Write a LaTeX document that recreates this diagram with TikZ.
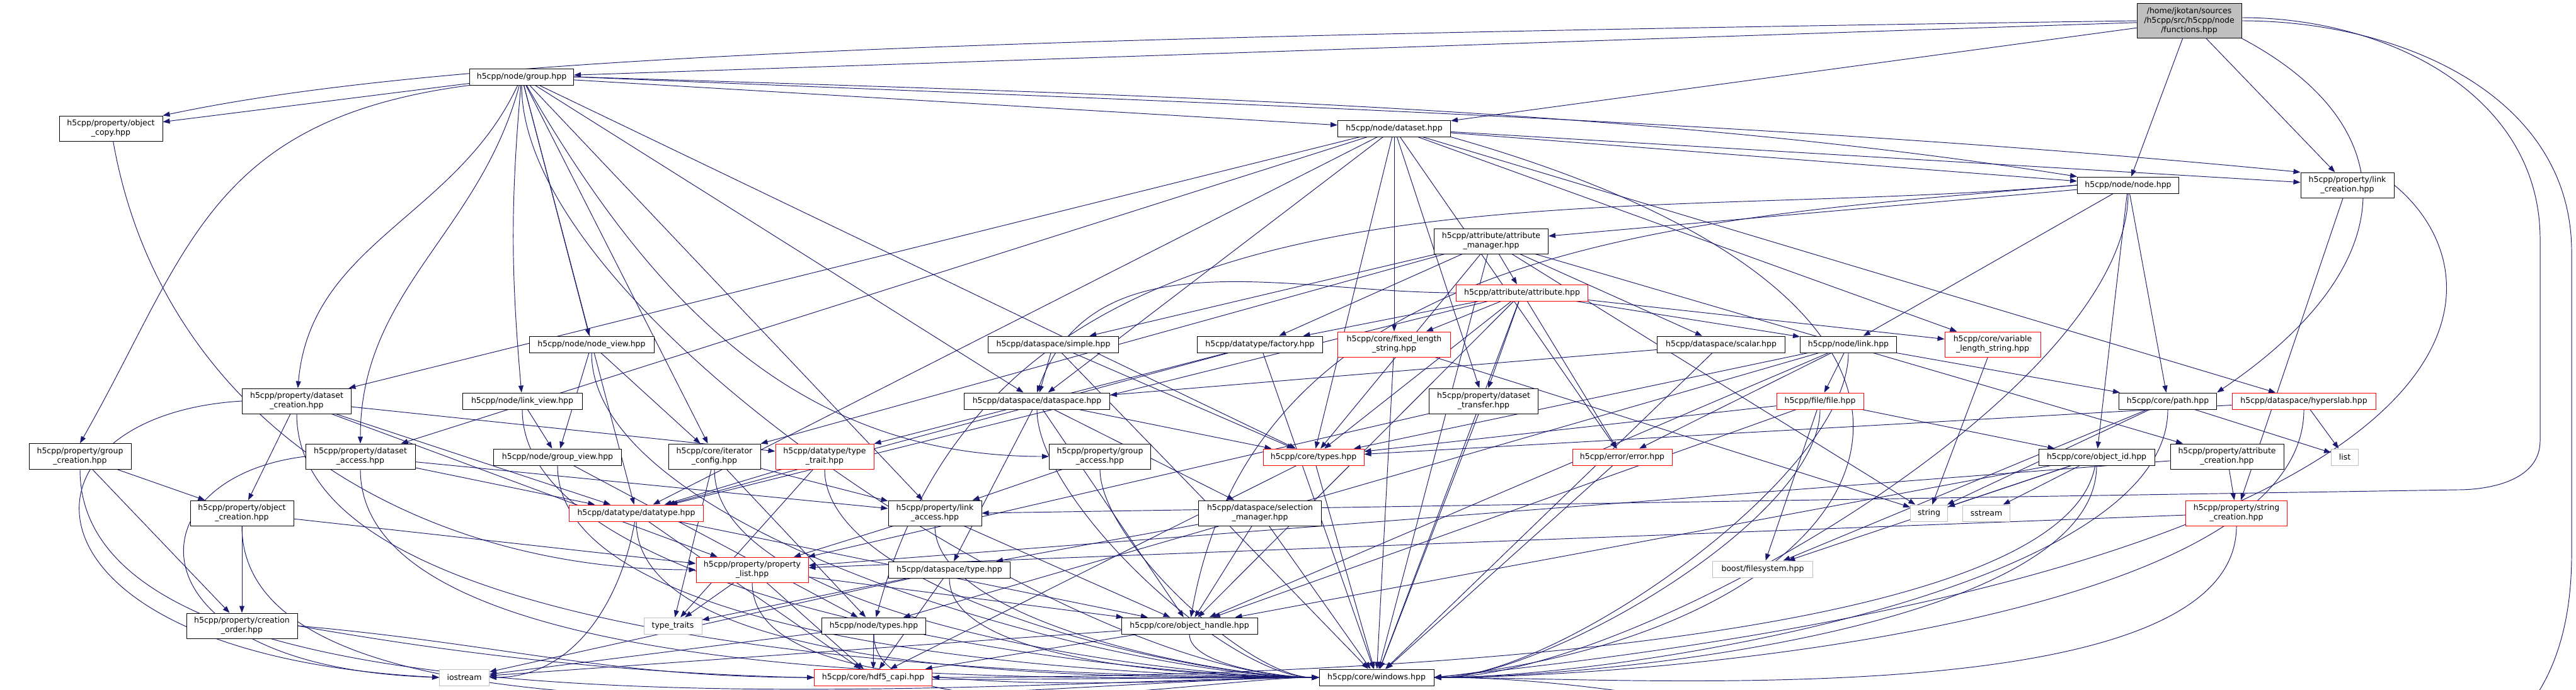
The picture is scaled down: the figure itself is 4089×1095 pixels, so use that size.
\documentclass[tikz,border=0pt]{standalone}
\usepackage{fontspec}
\newfontfamily\dxfont{DejaVu Sans}
\usetikzlibrary{arrows.meta}
\definecolor{edgec}{HTML}{191970}
\definecolor{grayb}{HTML}{BFBFBF}
\pgfdeclarelayer{bg}
\pgfsetlayers{bg,main}
\begin{document}
\begin{tikzpicture}[x=0.2pt,y=0.2pt,
  nb/.style={draw=black, fill=white, line width=0.2pt, inner sep=0pt, align=center, font=\dxfont\fontsize{2.5}{3}\selectfont},
  nr/.style={nb, draw=red},
  ng/.style={nb, draw=grayb},
  sz/.style 2 args={/utils/exec={\pgfmathsetmacro\mw{#1*0.2}\pgfmathsetmacro\mh{#2*0.2}}, minimum width=\mw pt, minimum height=\mh pt},
  e/.style={color=edgec, line width=0.19pt, -{Triangle[length=2.2pt,width=1.6pt]}},
  tw/.style={out=-90,in=180,looseness=0.6},
  te/.style={out=-90,in=0,looseness=0.6}]
\useasboundingbox (0,0) rectangle (4089,-1095);
% nodes
\node[nb, fill=grayb, sz={166}{55}] (root) at (3475,-33) {/home/jkotan/sources\\/h5cpp/src/h5cpp/node\\/functions.hpp};
\node[nb, sz={165}{26}] (group) at (828,-122) {h5cpp/node/group.hpp};
\node[nb, sz={164}{40}] (ocopy) at (176,-204) {h5cpp/property/object\\\_copy.hpp};
\node[nb, sz={179}{26}] (dset) at (2213,-204) {h5cpp/node/dataset.hpp};
\node[nb, sz={161}{26}] (nnode) at (3378,-294) {h5cpp/node/node.hpp};
\node[nb, sz={148}{40}] (lcre) at (3726,-294) {h5cpp/property/link\\\_creation.hpp};
\node[nb, sz={181}{40}] (amgr) at (2367,-383) {h5cpp/attribute/attribute\\\_manager.hpp};
\node[nr, sz={209}{26}] (attr) at (2416,-465) {h5cpp/attribute/attribute.hpp};
\node[nr, sz={179}{40}] (fls) at (2213,-547) {h5cpp/core/fixed\_length\\\_string.hpp};
\node[nb, sz={203}{26}] (scalar) at (2732,-547) {h5cpp/dataspace/scalar.hpp};
\node[nb, sz={153}{26}] (link) at (2934,-547) {h5cpp/node/link.hpp};
\node[nb, sz={199}{26}] (factory) at (2000,-547) {h5cpp/datatype/factory.hpp};
\node[nb, sz={207}{26}] (simple) at (1672,-547) {h5cpp/dataspace/simple.hpp};
\node[nb, sz={198}{26}] (nview) at (939,-547) {h5cpp/node/node\_view.hpp};
\node[nb, sz={173}{40}] (dscre) at (471,-637) {h5cpp/property/dataset\\\_creation.hpp};
\node[nb, sz={190}{26}] (lview) at (829,-637) {h5cpp/node/link\_view.hpp};
\node[nb, sz={162}{41}] (gcre) at (127,-725) {h5cpp/property/group\\\_creation.hpp};
\node[nb, sz={174}{40}] (dsacc) at (572,-725) {h5cpp/property/dataset\\\_access.hpp};
\node[nb, sz={203}{26}] (gview) at (885,-726) {h5cpp/node/group\_view.hpp};
\node[nb, sz={146}{40}] (iter) at (1134,-725) {h5cpp/core/iterator\\\_config.hpp};
\node[nr, sz={156}{40}] (ttrait) at (1309,-725) {h5cpp/datatype/type\\\_trait.hpp};
\node[nb, sz={231}{26}] (dspace) at (1646,-637) {h5cpp/dataspace/dataspace.hpp};
\node[nb, sz={161}{40}] (gacc) at (1746,-725) {h5cpp/property/group\\\_access.hpp};
\node[nr, sz={213}{26}] (dtype) at (1010,-815) {h5cpp/datatype/datatype.hpp};
\node[nb, sz={164}{40}] (ocre) at (384,-815) {h5cpp/property/object\\\_creation.hpp};
\node[nb, sz={176}{40}] (corder) at (384,-994) {h5cpp/property/creation\\\_order.hpp};
\node[ng, sz={79}{26}] (iostream) at (737,-1076) {iostream};
\node[nb, sz={148}{40}] (lacc) at (1484,-815) {h5cpp/property/link\\\_access.hpp};
\node[nb, sz={195}{40}] (selm) at (2000,-815) {h5cpp/dataspace/selection\\\_manager.hpp};
\node[nr, sz={178}{40}] (plist) at (1194,-905) {h5cpp/property/property\\\_list.hpp};
\node[nb, sz={193}{26}] (dstype) at (1507,-905) {h5cpp/dataspace/type.hpp};
\node[ng, sz={92}{26}] (ttraits) at (1068,-994) {type\_traits};
\node[nb, sz={165}{26}] (ntypes) at (1387,-994) {h5cpp/node/types.hpp};
\node[nb, sz={216}{26}] (ohandle) at (1888,-994) {h5cpp/core/object\_handle.hpp};
\node[nr, sz={187}{26}] (capi) at (1386,-1076) {h5cpp/core/hdf5\_capi.hpp};
\node[nb, sz={182}{26}] (windows) at (2185,-1076) {h5cpp/core/windows.hpp};
\node[nr, sz={160}{26}] (ctypes) at (2085,-726) {h5cpp/core/types.hpp};
\node[nr, sz={158}{26}] (error) at (2575,-726) {h5cpp/error/error.hpp};
\node[nb, sz={173}{40}] (dstr) at (2355,-637) {h5cpp/property/dataset\\\_transfer.hpp};
\node[nr, sz={138}{26}] (file) at (2889,-637) {h5cpp/file/file.hpp};
\node[nr, sz={152}{40}] (vls) at (3163,-547) {h5cpp/core/variable\\\_length\_string.hpp};
\node[nb, sz={155}{26}] (path) at (3441,-637) {h5cpp/core/path.hpp};
\node[nr, sz={228}{26}] (hslab) at (3657,-637) {h5cpp/dataspace/hyperslab.hpp};
\node[nb, sz={184}{26}] (oid) at (3328,-726) {h5cpp/core/object\_id.hpp};
\node[nb, sz={180}{40}] (acre) at (3535,-725) {h5cpp/property/attribute\\\_creation.hpp};
\node[ng, sz={43}{26}] (list) at (3722,-726) {list};
\node[ng, sz={59}{26}] (string) at (3062,-815) {string};
\node[ng, sz={75}{26}] (sstream) at (3153,-815) {sstream};
\node[nr, sz={161}{40}] (scre) at (3550,-815) {h5cpp/property/string\\\_creation.hpp};
\node[ng, sz={159}{26}] (boostfs) at (2798,-904) {boost/filesystem.hpp};
\begin{pgfonlayer}{bg}
\fill[white] (0,0) rectangle (4089,-1095);
% root
\draw[e] (root) -- (group);
\draw[e] (root.west) .. controls (1500,-60) and (700,-90) .. (ocopy.north east);
\draw[e] (root) -- (dset);
\draw[e] (root) -- (nnode);
\draw[e] (root) -- (lcre);
\draw[e] (root.south east) .. controls (3820,-200) and (3820,-420) .. (path.north east);
\draw[e] ([yshift=1pt]root.east) to[out=0,in=90] (4032,-380) -- (4032,-700) to[out=-90,in=0] (3900,-778) -- (lacc.east);
\draw[e] (root.east) to[out=0,in=90] (4082,-400) -- (4082,-880) to[out=-90,in=0] (windows.east);
% group
\draw[e] (group) -- (ocopy);
\draw[e] (group.south west) .. controls (330,-190) and (300,-400) .. (gcre.north);
\draw[e] (group) to[out=-115,in=85] (dscre);
\draw[e] (group) to[out=-105,in=90] (dsacc);
\draw[e] (group) to[out=-95,in=95] (lview);
\draw[e] (group) -- (iter);
\draw[e] (group) -- (nview);
\draw[e] (group) -- (dset);
\draw[e] (group.east) .. controls (1800,-150) and (2600,-170) .. (nnode.north west);
\draw[e] (group.east) .. controls (1800,-160) and (2800,-190) .. (lcre.north west);
\draw[e] (group) -- (dspace);
\draw[e] (group) to[out=-60,in=180] (gacc);
\draw[e] (group) -- (lacc);
\draw[e] (group) -- (dtype);
\draw[e] (group) -- (ctypes);
\draw[e] (group) to[tw] (windows.west);
% dataset
\draw[e] (dset) -- (nnode);
\draw[e] (dset) -- (lcre);
\draw[e] (dset) -- (dspace);
\draw[e] (dset) -- (hslab);
\draw[e] (dset) -- (dtype);
\draw[e] (dset) -- (dstr);
\draw[e] (dset) -- (dscre);
\draw[e] (dset) -- (dsacc);
\draw[e] (dset) -- (fls);
\draw[e] (dset) -- (vls);
\draw[e] (dset) -- (ctypes);
\draw[e] (dset) -- (error);
\draw[e] (dset.south east) .. controls (3300,-500) and (3000,-1000) .. (windows.east);
% node
\draw[e] (nnode) -- (amgr);
\draw[e] (nnode) -- (link);
\draw[e] (nnode) -- (oid);
\draw[e] (nnode) -- (path);
\draw[e] (nnode.west) to[out=185,in=80] (ohandle);
\draw[e] (nnode.west) to[out=185,in=75] (ntypes);
\draw[e] (nnode) to[te] (windows.east);
% link_creation
\draw[e] (lcre) -- (scre);
\draw[e] (lcre.east) .. controls (3990,-450) and (3990,-900) .. (windows.east);
% object_copy
\draw[e] (ocopy) to[out=-80,in=180] (plist.west);
% attribute_manager
\draw[e] (amgr) -- (attr);
\draw[e] (amgr) -- (simple);
\draw[e] (amgr) -- (scalar);
\draw[e] (amgr) -- (factory);
\draw[e] (amgr) -- (iter);
\draw[e] (amgr) -- (acre);
\draw[e] (amgr) -- (ctypes);
\draw[e] (amgr) -- (string);
\draw[e] (amgr) -- (windows);
% attribute
\draw[e] (attr) -- (factory);
\draw[e] (attr) -- (fls);
\draw[e] (attr) -- (ctypes);
\draw[e] (attr) -- (dstr);
\draw[e] (attr) -- (error);
\draw[e] (attr) -- (link);
\draw[e] (attr) -- (vls);
\draw[e] (attr.west) to[out=180,in=70] (dspace.north);
\draw[e] (attr) -- (dtype);
\draw[e] (attr) -- (ohandle);
\draw[e] (attr) -- (windows);
% fixed length string
\draw[e] (fls) -- (string);
\draw[e] (fls) -- (windows);
% scalar
\draw[e] (scalar) -- (dspace);
\draw[e] (scalar) -- (windows);
% link
\draw[e] (link) -- (path);
\draw[e] (link) -- (file);
\draw[e] (link) -- (error);
\draw[e] (link) -- (ohandle);
\draw[e] (link) -- (ntypes);
\draw[e] (link) -- (ctypes);
\draw[e] (link) to[te] (windows.east);
% factory
\draw[e] (factory) -- (ttrait);
\draw[e] (factory) -- (dtype);
\draw[e] (factory) -- (windows);
% simple
\draw[e] (simple) -- (dspace);
\draw[e] (simple) -- (ctypes);
\draw[e] (simple) -- (windows);
% node_view
\draw[e] (nview) -- (gview);
\draw[e] (nview) -- (iter);
\draw[e] (nview) to[tw] (windows.west);
% dataset_creation
\draw[e] (dscre.west) .. controls (0,-660) and (0,-1040) .. (iostream.west);
\draw[e] (dscre) -- (ocre);
\draw[e] (dscre) -- (dtype);
\draw[e] (dscre) -- (ttrait);
\draw[e] (dscre) -- (plist);
\draw[e] (dscre) to[tw] (windows.west);
% link_view
\draw[e] (lview) -- (gview);
\draw[e] (lview) to[tw] (windows.west);
% group_creation
\draw[e] (gcre) -- (ocre);
\draw[e] (gcre) -- (corder);
\draw[e] (gcre) to[tw] (windows.west);
% dataset_access
\draw[e] (dsacc) -- (lacc);
\draw[e] (dsacc) -- (dtype);
\draw[e] (dsacc) to[tw] (windows.west);
\draw[e] (dsacc.west) .. controls (200,-760) and (200,-1060) .. (iostream.west);
% group_view
\draw[e] (gview) -- (ntypes);
\draw[e] (gview) to[tw] (windows.west);
% iterator_config
\draw[e] (iter) -- (ttraits);
\draw[e] (iter) -- (ntypes);
\draw[e] (iter) -- (lacc);
\draw[e] (iter) to[tw] (windows.west);
% type_trait
\draw[e] (ttrait) -- (dtype);
\draw[e] (ttrait) -- (ttraits);
\draw[e] (ttrait) to[tw] (windows.west);
% dataspace
\draw[e] (dspace) -- (selm);
\draw[e] (dspace) -- (dstype);
\draw[e] (dspace) -- (ohandle);
\draw[e] (dspace) -- (ctypes);
\draw[e] (dspace) to[tw] (windows.west);
% group_access
\draw[e] (gacc) -- (lacc);
\draw[e] (gacc) to[tw] (windows.west);
% datatype
\draw[e] (dtype) -- (ohandle);
\draw[e] (dtype) to[tw] (windows.west);
\draw[e] (dtype) to[out=-100,in=0] (iostream.east);
\draw[e] (dtype) -- (capi);
% object_creation
\draw[e] (ocre) -- (plist);
\draw[e] (ocre) -- (corder);
\draw[e] (ocre) to[tw] (windows.west);
% creation_order
\draw[e] (corder.east) to[out=-5,in=180] (capi.west);
\draw[e] (corder.east) to[out=-10,in=180] (windows.west);
% link_access
\draw[e] (lacc) -- (plist);
\draw[e] (lacc) -- (ohandle);
\draw[e] (lacc) to[tw] (windows.west);
% selection_manager
\draw[e] (selm) -- (dstype);
\draw[e] (selm) -- (ohandle);
\draw[e] (selm) -- (windows);
% property_list
\draw[e] (plist) -- (ttraits);
\draw[e] (plist) -- (capi);
\draw[e] (plist) -- (ohandle);
\draw[e] (plist) to[tw] (windows.west);
% dataspace/type
\draw[e] (dstype) -- (ttraits);
\draw[e] (dstype) -- (capi);
\draw[e] (dstype) to[tw] (windows.west);
\draw[e] (dstype) -- (iostream);
% node/types
\draw[e] (ntypes) -- (capi);
\draw[e] (ntypes) to[tw] (windows.west);
\draw[e] (ntypes) -- (iostream);
% object_handle
\draw[e] (ohandle) -- (capi);
\draw[e] (ohandle) to[tw] (windows.west);
\draw[e] (ohandle) -- (iostream);
% core/types
\draw[e] (ctypes) -- (windows);
\draw[e] (ctypes) -- (capi);
% error
\draw[e] (error) -- (windows);
% dataset_transfer
\draw[e] (dstr) -- (plist);
\draw[e] (dstr) -- (windows);
% file
\draw[e] (file) -- (ctypes);
\draw[e] (file) -- (ohandle);
\draw[e] (file) -- (boostfs);
\draw[e] (file) -- (oid);
\draw[e] (file) to[te] (windows.east);
% variable_length_string
\draw[e] (vls) -- (string);
% path
\draw[e] (path) -- (list);
\draw[e] (path) -- (string);
\draw[e] (path) -- (boostfs);
\draw[e] (path) to[te] (windows.east);
% hyperslab
\draw[e] (hslab) -- (ctypes);
\draw[e] (hslab) -- (list);
\draw[e] (hslab) to[te] (windows.east);
% object_id
\draw[e] (oid) -- (string);
\draw[e] (oid) -- (sstream);
\draw[e] (oid) -- (boostfs);
\draw[e] (oid) -- (ohandle);
\draw[e] (oid) to[te] (windows.east);
\draw[e] (oid) to[out=-100,in=0,looseness=0.45] (capi.east);
% attribute_creation
\draw[e] (acre) -- (scre);
\draw[e] (acre) -- (plist);
% string_creation
\draw[e] (scre) -- (plist);
\draw[e] (scre) to[te] (windows.east);
\end{pgfonlayer}
\end{tikzpicture}
\end{document}
